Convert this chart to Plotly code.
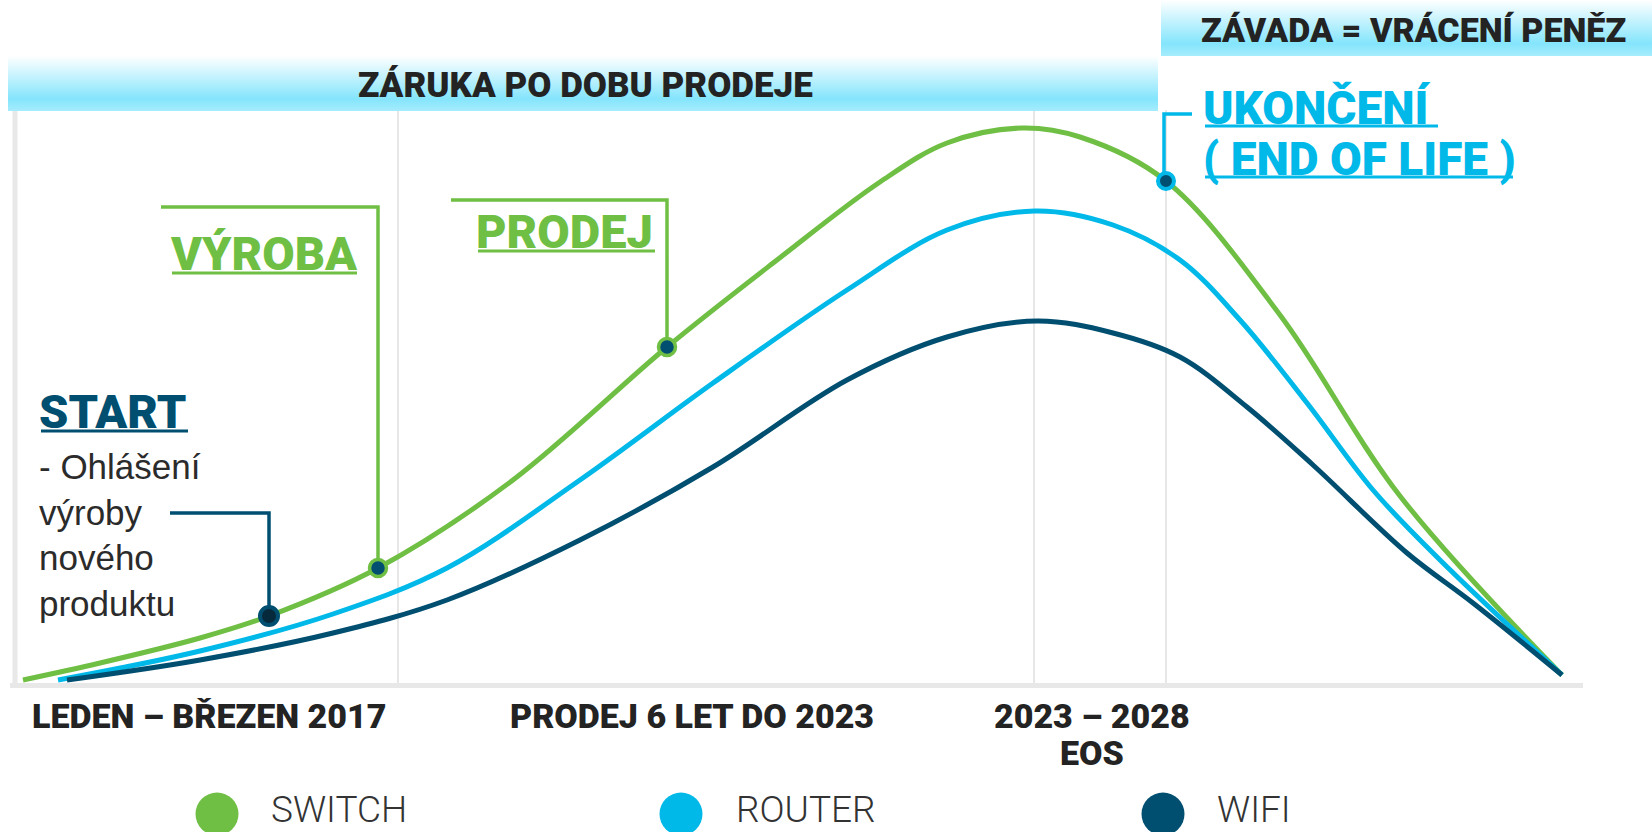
import plotly.graph_objects as go

# ---------------- data ----------------
series_names = ["SWITCH", "ROUTER", "WIFI"]
series_colors = ["#70bf45", "#00b9e9", "#004f71"]

switch_x = [10, 87, 187, 256, 365, 500, 654, 764, 867, 934, 1009, 1067, 1153, 1267, 1387, 1549]
switch_y = [4, 21, 46, 68, 116, 204, 337, 424, 502, 541, 556, 547, 503, 369, 188, 9]

router_x = [45, 187, 320, 434, 567, 700, 834, 934, 1022, 1100, 1167, 1227, 1294, 1360, 1427, 1549]
router_y = [4, 33, 70, 116, 204, 301, 394, 454, 473, 459, 424, 364, 281, 194, 124, 9]

wifi_x = [54, 187, 320, 434, 567, 700, 834, 934, 1024, 1100, 1167, 1234, 1300, 1394, 1460, 1549]
wifi_y = [4, 24, 51, 84, 144, 217, 304, 347, 363, 351, 327, 277, 219, 131, 81, 9]

milestone_labels = ["START", "VÝROBA", "PRODEJ", "UKONČENÍ"]
milestone_index = [3, 4, 6, 12]          # points on the SWITCH curve
milestone_colors = ["#004f71", "#70bf45", "#70bf45", "#00b9e9"]

grid_x = [385, 1021, 1153]
period_labels = ["LEDEN – BŘEZEN 2017", "PRODEJ 6 LET DO 2023", "2023 – 2028", "EOS"]
period_x = [196, 679, 1079, 1079]
period_row = [0, 0, 0, 1]

header_labels = ["ZÁRUKA PO DOBU PRODEJE", "ZÁVADA = VRÁCENÍ PENĚZ"]
start_note = "- Ohlášení<br>výroby<br>nového<br>produktu"
eol_lines = ["UKONČENÍ", "( END OF LIFE )"]

# ---------------- layout constants (pixels) ----------------
W, H = 1652, 832
PLOT_L, PLOT_R, PLOT_T, PLOT_B = 15, 1583, 110, 685.5
X0_PX, Y0_PX = 13, 684          # pixel position of data (0, 0)

HEAVY = "Roboto"
TXT_DARK = "#232323"


def dx(xp):
    return xp - X0_PX


def dy(yp):
    return Y0_PX - yp


fig = go.Figure()


# ---- gradient header bands (pixel axes) ----
def band(x0, x1, y0, y1):
    fig.add_trace(go.Scatter(
        x=[x0, x1, x1, x0, x0], y=[y0, y0, y1, y1, y0],
        mode="lines", line=dict(width=0), fill="toself",
        fillgradient=dict(type="vertical",
                          colorscale=[[0, "#ffffff"], [0.78, "#84e5fc"], [1, "#a6ecfd"]],
                          start=y0, stop=y1),
        xaxis="x2", yaxis="y2", hoverinfo="skip", showlegend=False))


band(8, 1158, 56, 111)
band(1161, 1652, 0, 56)

# ---- callout leader lines ----
sx = [switch_x[i] for i in milestone_index]
sy = [switch_y[i] for i in milestone_index]
callouts = [
    ([dx(170), sx[0], sx[0]], [dy(513), dy(513), sy[0]], milestone_colors[0]),
    ([dx(161), sx[1], sx[1]], [dy(207), dy(207), sy[1]], milestone_colors[1]),
    ([dx(451), sx[2], sx[2]], [dy(200), dy(200), sy[2]], milestone_colors[2]),
    ([dx(1192), sx[3] - 2, sx[3] - 2], [dy(114), dy(114), sy[3]], milestone_colors[3]),
]
for cx, cy, col in callouts:
    fig.add_trace(go.Scatter(x=cx, y=cy, mode="lines", line=dict(color=col, width=3.5),
                             hoverinfo="skip", showlegend=False))

# ---- curves ----
for xs, ys, col in [(switch_x, switch_y, series_colors[0]),
                    (router_x, router_y, series_colors[1]),
                    (wifi_x, wifi_y, series_colors[2])]:
    fig.add_trace(go.Scatter(x=xs, y=ys, mode="lines",
                             line=dict(color=col, width=5, shape="spline", smoothing=1.0),
                             hoverinfo="skip", showlegend=False))

# ---- milestone markers ----
fig.add_trace(go.Scatter(x=[sx[0]], y=[sy[0]], mode="markers",
                         marker=dict(size=18, color="#062a3b", line=dict(color="#004f71", width=4)),
                         hoverinfo="skip", showlegend=False))
fig.add_trace(go.Scatter(x=sx[1:3], y=sy[1:3], mode="markers",
                         marker=dict(size=17, color="#004f71", line=dict(color="#70bf45", width=3.5)),
                         hoverinfo="skip", showlegend=False))
fig.add_trace(go.Scatter(x=[sx[3]], y=[sy[3]], mode="markers",
                         marker=dict(size=16, color="#004f71", line=dict(color="#00b9e9", width=4)),
                         hoverinfo="skip", showlegend=False))

# ---- custom legend (pixel axes) ----
leg_cx = [217, 681, 1163]
leg_tx = [270, 735, 1216]
fig.add_trace(go.Scatter(x=leg_cx, y=[814] * 3, mode="markers",
                         marker=dict(size=43, color=series_colors, line=dict(width=0)),
                         xaxis="x2", yaxis="y2", hoverinfo="skip", showlegend=False))

annotations = []
for name, tx in zip(series_names, leg_tx):
    annotations.append(dict(x=tx, y=809, xref="x2", yref="y2", text=name, showarrow=False,
                            xanchor="left", yanchor="middle", borderpad=0,
                            font=dict(family="Roboto", size=37, weight=300, color="#333333")))

# headers
annotations.append(dict(x=585, y=85, xref="x2", yref="y2", text=header_labels[0], showarrow=False,
                        xanchor="center", yanchor="middle",
                        font=dict(family=HEAVY, size=35, weight=900, color=TXT_DARK)))
annotations.append(dict(x=1413, y=30, xref="x2", yref="y2", text=header_labels[1], showarrow=False,
                        xanchor="center", yanchor="middle",
                        font=dict(family=HEAVY, size=34, weight=900, color=TXT_DARK)))

# period labels under the axis
row_y = [716, 753]
for lab, xv, r in zip(period_labels, period_x, period_row):
    annotations.append(dict(x=xv, y=row_y[r], xref="x", yref="y2", text=lab, showarrow=False,
                            xanchor="center", yanchor="middle",
                            font=dict(family=HEAVY, size=34, weight=900, color=TXT_DARK)))

# milestone titles (underlined with shapes)
title_pos = [(41, 411, 188, 431), (172, 253, 357, 273), (478, 231, 655, 251)]
shapes = []
for lab, col, (x0, yc, x1, yu) in zip(milestone_labels[:3], milestone_colors[:3], title_pos):
    annotations.append(dict(x=x0 - 3, y=yc, xref="x2", yref="y2", text=lab, showarrow=False,
                            xanchor="left", yanchor="middle", borderpad=0,
                            font=dict(family=HEAVY, size=47, weight=900, color=col)))
    shapes.append(dict(type="line", xref="x2", yref="y2", x0=x0, x1=x1, y0=yu, y1=yu,
                       line=dict(color=col, width=3)))

# UKONČENÍ / END OF LIFE
eol_pos = [(1205, 108, 1438, 126), (1205, 159, 1513, 177)]
for lab, (x0, yc, x1, yu) in zip(eol_lines, eol_pos):
    annotations.append(dict(x=x0 - 3, y=yc, xref="x2", yref="y2", text=lab, showarrow=False,
                            xanchor="left", yanchor="middle", borderpad=0,
                            font=dict(family=HEAVY, size=46, weight=900, color=milestone_colors[3])))
    shapes.append(dict(type="line", xref="x2", yref="y2", x0=x0, x1=x1, y0=yu, y1=yu,
                       line=dict(color=milestone_colors[3], width=3)))

# start note
annotations.append(dict(x=38, y=446, xref="x2", yref="y2", text=start_note, showarrow=False,
                        xanchor="left", yanchor="top", align="left", borderpad=0,
                        font=dict(family="Liberation Sans", size=35, color="#2b2b2b")))

# axis base lines
shapes.append(dict(type="line", xref="x2", yref="y2", x0=10, x1=PLOT_R, y0=PLOT_B, y1=PLOT_B,
                   line=dict(color="#e8e8e8", width=5), layer="below"))
shapes.append(dict(type="line", xref="x2", yref="y2", x0=PLOT_L, x1=PLOT_L, y0=PLOT_T, y1=PLOT_B + 2,
                   line=dict(color="#e8e8e8", width=5), layer="below"))

fig.update_layout(
    width=W, height=H,
    margin=dict(l=0, r=0, t=0, b=0),
    paper_bgcolor="white", plot_bgcolor="rgba(0,0,0,0)",
    showlegend=False,
    xaxis=dict(domain=[PLOT_L / W, PLOT_R / W], range=[dx(PLOT_L), dx(PLOT_R)],
               showgrid=True, tickvals=grid_x, gridcolor="#e7e7e7", gridwidth=2,
               showticklabels=False, ticks="", zeroline=False, showline=False, fixedrange=True),
    yaxis=dict(domain=[1 - PLOT_B / H, 1 - PLOT_T / H], range=[dy(PLOT_B), dy(PLOT_T)],
               showgrid=False, showticklabels=False, ticks="", zeroline=False, showline=False,
               fixedrange=True),
    xaxis2=dict(domain=[0, 1], range=[0, W], visible=False, anchor="y2", fixedrange=True),
    yaxis2=dict(domain=[0, 1], range=[H, 0], visible=False, anchor="x2", fixedrange=True),
    annotations=annotations,
    shapes=shapes,
)

fig.write_html("out.html", config={"displayModeBar": False},
               post_script="document.body.style.margin='0';")
